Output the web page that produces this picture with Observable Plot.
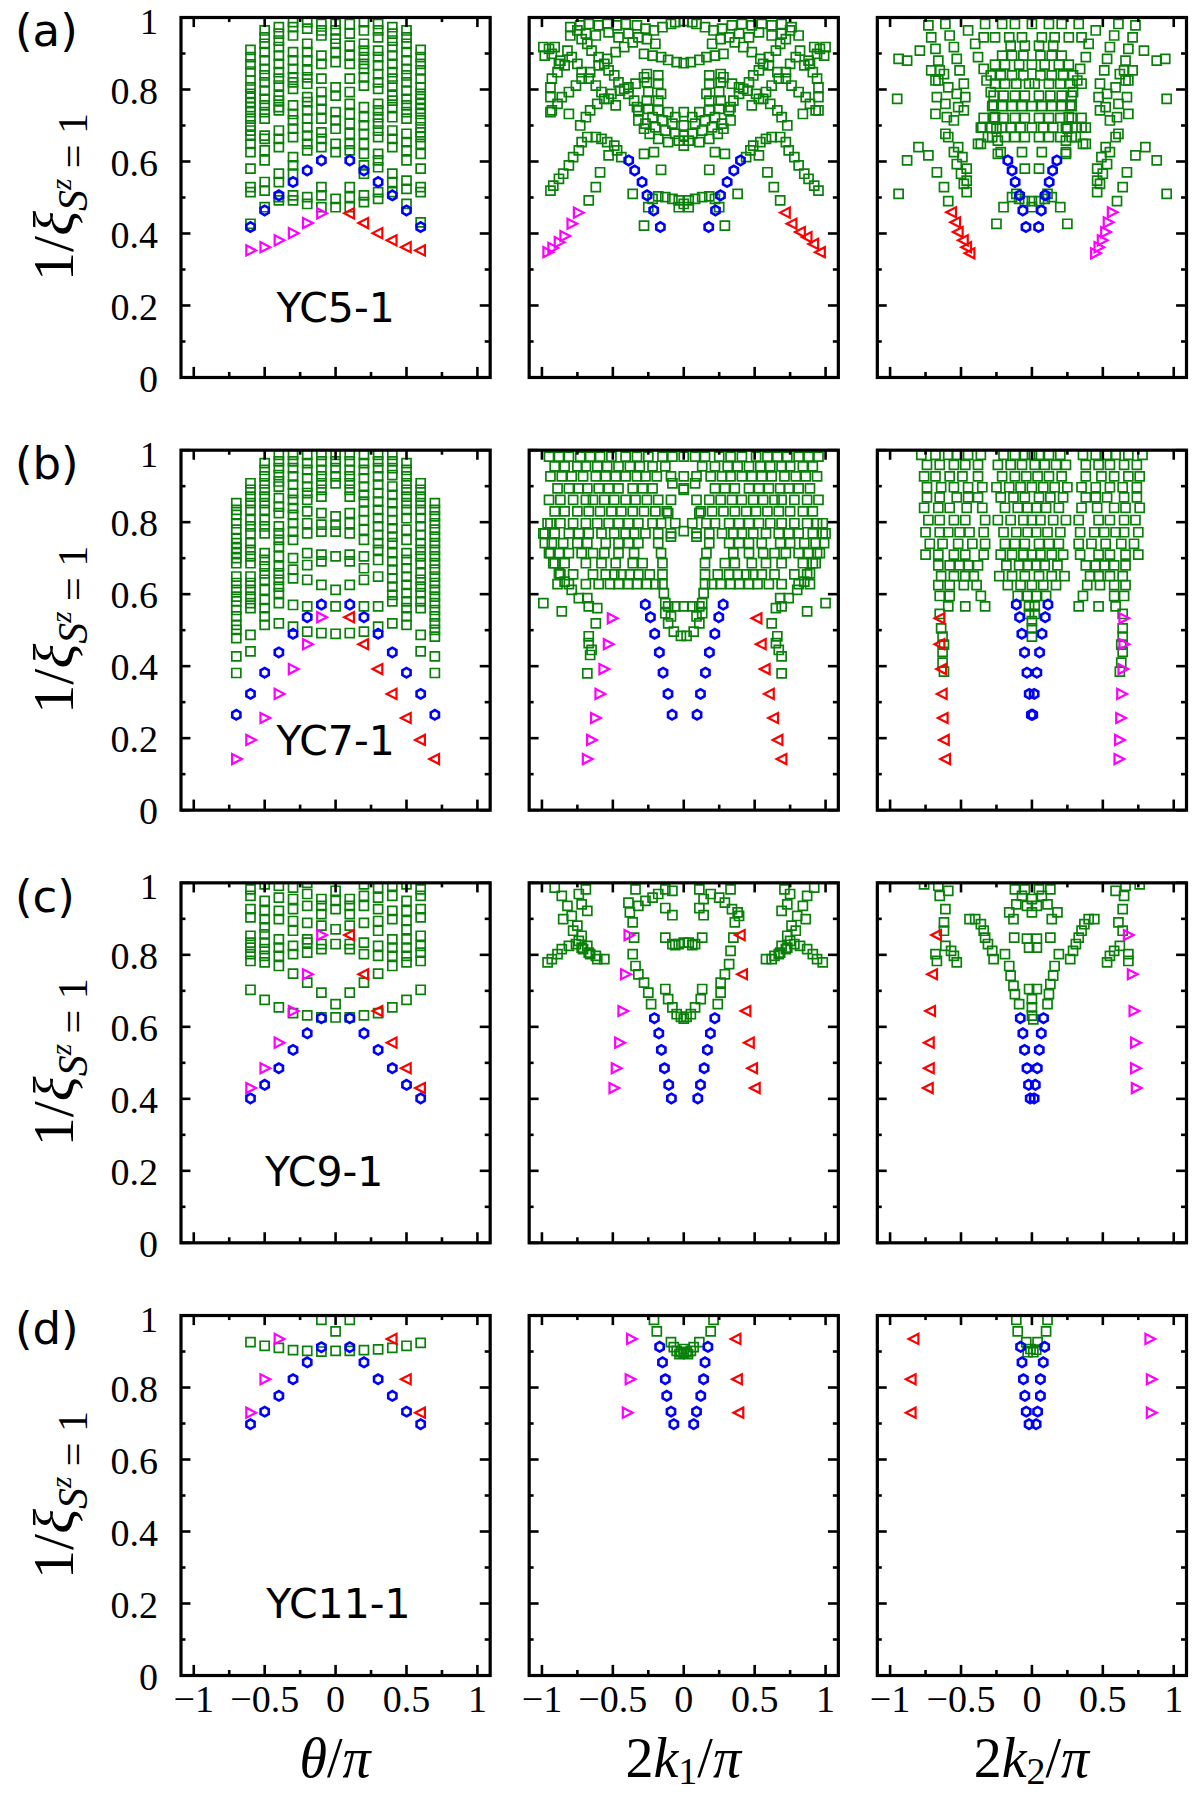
<!DOCTYPE html>
<html><head><meta charset="utf-8">
<script src="https://cdn.jsdelivr.net/npm/d3@7"></script>
<script src="https://cdn.jsdelivr.net/npm/@observablehq/plot@0.6"></script>
<style>body{margin:0;background:#fff}</style>
</head><body><div id="chart"></div>
<script>
// ---------------- categories / ticks ----------------
const rowKeys = ["a", "b", "c", "d"];
const colKeys = ["theta", "k1", "k2"];
const panelLetters = ["(a)", "(b)", "(c)", "(d)"];
const systemNames = ["YC5-1", "YC7-1", "YC9-1", "YC11-1"];
const systemLabelAt = [[0, 0.19], [0, 0.19], [-0.08, 0.193], [0.02, 0.195]];
const xMajorTicks = [-1, -0.5, 0, 0.5, 1];
const xMinorTicks = [-0.75, -0.25, 0.25, 0.75];
const yMajorTicks = [0, 0.2, 0.4, 0.6, 0.8, 1];
const yMinorTicks = [0.1, 0.3, 0.5, 0.7, 0.9];

// ---------------- row (a) YC5-1 ----------------
const greenA1 = [
 [-0.6,[0.91,0.89,0.87,0.85,0.825,0.806,0.788,0.777,0.765,0.751,0.737,0.719,0.70,0.686,0.672,0.649,0.626,0.58,0.529,0.515,0.427]],
 [-0.5,[0.964,0.945,0.927,0.904,0.881,0.857,0.839,0.82,0.797,0.774,0.756,0.737,0.719,0.672,0.663,0.631,0.603,0.543,0.519,0.473]],
 [-0.4,[0.973,0.955,0.936,0.918,0.894,0.871,0.848,0.83,0.811,0.783,0.769,0.751,0.742,0.686,0.663,0.64,0.566,0.543,0.501,0.492]],
 [-0.3,[0.987,0.973,0.95,0.904,0.881,0.857,0.834,0.82,0.802,0.756,0.732,0.714,0.691,0.668,0.612,0.589,0.566,0.506,0.492]],
 [-0.2,[0.987,0.969,0.927,0.904,0.881,0.853,0.834,0.816,0.779,0.765,0.742,0.719,0.695,0.672,0.649,0.631,0.501,0.482]],
 [-0.1,[0.982,0.964,0.95,0.894,0.871,0.83,0.793,0.769,0.746,0.719,0.681,0.663,0.64,0.529,0.506,0.473]],
 [0,[0.982,0.964,0.941,0.927,0.904,0.876,0.806,0.783,0.737,0.714,0.691,0.649,0.626,0.496,0.473]],
 [0.1,[0.982,0.955,0.922,0.894,0.871,0.83,0.793,0.76,0.732,0.705,0.677,0.649,0.631,0.529,0.501,0.473]],
 [0.2,[0.987,0.964,0.927,0.908,0.89,0.871,0.857,0.834,0.811,0.751,0.723,0.70,0.677,0.649,0.621,0.589,0.566,0.506,0.487]],
 [0.3,[0.982,0.964,0.945,0.908,0.89,0.867,0.843,0.82,0.802,0.76,0.742,0.723,0.705,0.686,0.668,0.621,0.603,0.584,0.515,0.496]],
 [0.4,[0.973,0.955,0.936,0.918,0.894,0.871,0.848,0.83,0.811,0.783,0.769,0.751,0.723,0.686,0.663,0.64,0.566,0.543,0.515]],
 [0.5,[0.964,0.945,0.927,0.904,0.881,0.857,0.839,0.82,0.797,0.774,0.756,0.737,0.719,0.677,0.654,0.631,0.603,0.547,0.524,0.482]],
 [0.6,[0.91,0.89,0.871,0.853,0.83,0.806,0.788,0.774,0.76,0.746,0.732,0.714,0.695,0.681,0.668,0.649,0.621,0.58,0.529,0.515,0.431]]
];
const blueA1 = [[-0.6,0.418],[-0.5,0.464],[-0.4,0.506],[-0.3,0.543],[-0.2,0.575],[-0.1,0.603],[0.1,0.603],[0.2,0.575],[0.3,0.543],[0.4,0.506],[0.5,0.464],[0.6,0.418]];
const magentaA1 = [[-0.6,0.353],[-0.5,0.362],[-0.4,0.381],[-0.3,0.401],[-0.2,0.429],[-0.1,0.456]];
const redA1 = [[0.1,0.456],[0.2,0.429],[0.3,0.401],[0.4,0.381],[0.5,0.362],[0.6,0.353]];

const greenA2 = [
 [-0.80,0.973],[-0.80,0.95],[-0.73,0.978],[-0.67,0.982],[-0.6,0.978],[-0.54,0.982],[-0.47,0.978],[-0.41,0.982],[-0.33,0.978],[-0.27,0.969],[-0.21,0.964],[-0.15,0.973],[-0.09,0.982],[-0.06,0.987],[0,0.99],[0.06,0.987],[0.09,0.982],[0.15,0.973],[0.21,0.964],[0.27,0.969],[0.34,0.978],[0.41,0.982],[0.48,0.978],[0.55,0.982],[0.62,0.978],[0.69,0.982],[0.76,0.973],[0.81,0.95],
 [-0.69,0.955],[-0.62,0.95],[-0.53,0.959],[-0.46,0.945],[-0.39,0.955],[0.39,0.955],[0.46,0.945],[0.53,0.959],[0.62,0.95],[0.69,0.955],
 [-0.28,0.899],[-0.22,0.894],[-0.16,0.89],[-0.11,0.882],[-0.05,0.876],[0,0.873],[0.05,0.876],[0.11,0.882],[0.16,0.89],[0.22,0.894],[0.28,0.899],[-0.2,0.927],[0.2,0.927],[-0.26,0.94],[0.26,0.94],
 [-0.99,0.918],[-0.95,0.913],[-0.91,0.918],[-0.98,0.894],[-0.93,0.899],[-0.87,0.88],[-0.84,0.867],[1.0,0.918],[0.96,0.913],[0.92,0.918],[0.99,0.894],[0.94,0.899],[0.88,0.88],[0.85,0.867],
 [-0.94,0.806],[-0.94,0.779],[-0.94,0.737],[-0.93,0.83],[-0.89,0.848],[-0.88,0.871],[-0.81,0.732],[0.95,0.806],[0.95,0.779],[0.95,0.742],[0.94,0.83],[0.91,0.848],[0.89,0.871],[0.84,0.732],
 [-0.75,0.964],[-0.72,0.94],[-0.68,0.927],[-0.65,0.908],[-0.6,0.89],[-0.56,0.871],[-0.53,0.853],[-0.49,0.839],[-0.46,0.82],[-0.42,0.802],[-0.39,0.788],[-0.35,0.769],[-0.33,0.751],
 [0.75,0.964],[0.72,0.94],[0.68,0.927],[0.65,0.908],[0.6,0.89],[0.56,0.871],[0.53,0.853],[0.49,0.839],[0.46,0.82],[0.42,0.802],[0.39,0.788],[0.35,0.769],[0.33,0.751],
 [-0.82,0.908],[-0.79,0.89],[-0.75,0.871],[-0.72,0.848],[-0.67,0.83],[-0.62,0.811],[-0.58,0.793],[-0.53,0.774],[-0.48,0.756],
 [0.82,0.908],[0.79,0.89],[0.75,0.871],[0.72,0.848],[0.67,0.83],[0.62,0.811],[0.58,0.793],[0.53,0.774],[0.48,0.756],
 [-0.93,0.742],[-0.89,0.76],[-0.86,0.779],[-0.81,0.793],[-0.76,0.811],[-0.72,0.83],[-0.66,0.848],[-0.6,0.867],[-0.54,0.885],[-0.48,0.904],[-0.42,0.918],[-0.36,0.931],[-0.32,0.945],
 [0.93,0.742],[0.89,0.76],[0.86,0.779],[0.81,0.793],[0.76,0.811],[0.72,0.83],[0.66,0.848],[0.6,0.867],[0.54,0.885],[0.48,0.904],[0.42,0.918],[0.36,0.931],[0.32,0.945],
 [-0.73,0.7],[-0.69,0.723],[-0.66,0.742],[-0.61,0.76],[-0.56,0.774],[-0.51,0.788],[-0.45,0.797],[-0.39,0.806],[-0.34,0.816],[-0.28,0.834],
 [0.73,0.7],[0.69,0.723],[0.66,0.742],[0.61,0.76],[0.56,0.774],[0.51,0.788],[0.45,0.797],[0.39,0.806],[0.34,0.816],[0.28,0.834],
 [-0.26,0.843],[-0.18,0.839],[-0.26,0.82],[-0.18,0.816],[-0.25,0.793],[-0.16,0.788],[-0.26,0.769],[-0.18,0.769],
 [0.26,0.843],[0.18,0.839],[0.26,0.82],[0.18,0.816],[0.25,0.793],[0.16,0.788],[0.26,0.769],[0.18,0.769],
 [-0.32,0.742],[-0.25,0.746],[-0.18,0.742],[-0.11,0.737],[0,0.737],[0.11,0.737],[0.18,0.742],[0.25,0.746],[0.32,0.742],
 [-0.32,0.714],[-0.28,0.691],[-0.24,0.677],[-0.18,0.663],[-0.11,0.654],[0,0.644],[0.11,0.654],[0.18,0.663],[0.24,0.677],[0.28,0.691],[0.33,0.714],
 [-0.27,0.705],[-0.2,0.695],[-0.13,0.686],[-0.06,0.677],[0,0.672],[0.06,0.677],[0.13,0.686],[0.2,0.695],[0.27,0.705],
 [-0.22,0.723],[-0.15,0.714],[-0.08,0.705],[0,0.7],[0.08,0.705],[0.15,0.714],[0.22,0.723],
 [-0.035,0.658],[0.035,0.658],[-0.06,0.723],[0.06,0.723],
 [-0.94,0.519],[-0.92,0.533],[-0.88,0.552],[-0.85,0.566],[-0.81,0.589],[-0.78,0.612],[-0.74,0.631],[-0.72,0.654],[-0.68,0.668],[-0.62,0.668],[-0.58,0.663],[-0.54,0.654],[-0.49,0.644],[-0.47,0.631],[-0.53,0.617],[-0.44,0.612],
 [0.95,0.519],[0.92,0.533],[0.88,0.552],[0.85,0.566],[0.81,0.589],[0.78,0.612],[0.74,0.631],[0.72,0.654],[0.68,0.668],[0.62,0.668],[0.58,0.663],[0.54,0.654],[0.49,0.644],[0.47,0.631],[0.53,0.617],[0.44,0.612],
 [-0.59,0.57],[-0.62,0.529],[-0.67,0.492],[0.59,0.57],[0.635,0.529],[0.68,0.492],
 [-0.28,0.621],[-0.21,0.626],[-0.16,0.577],[-0.36,0.51],[-0.28,0.422],[0.29,0.621],[0.22,0.626],[0.18,0.577],[0.38,0.51],[0.29,0.422],
 [-0.25,0.473],[-0.22,0.496],[-0.18,0.503],[-0.13,0.501],[-0.08,0.496],[-0.035,0.492],[0,0.482],[0.035,0.492],[0.08,0.496],[0.13,0.501],[0.18,0.503],[0.22,0.496],[0.25,0.473],[-0.035,0.473],[0.035,0.473]
];
const blueA2 = [[-0.388,0.603],[-0.346,0.575],[-0.294,0.543],[-0.259,0.506],[-0.212,0.464],[-0.165,0.418],[0.176,0.418],[0.224,0.464],[0.259,0.506],[0.306,0.543],[0.353,0.575],[0.4,0.603]];
const magentaA2 = [[-0.96,0.348],[-0.925,0.36],[-0.88,0.376],[-0.84,0.393],[-0.79,0.427],[-0.745,0.458]];
const redA2 = [[0.718,0.458],[0.765,0.427],[0.824,0.404],[0.871,0.39],[0.918,0.371],[0.965,0.348]];

const greenA3 = [
 [-0.94,0.885],[-0.88,0.88],[-0.79,0.908],[-0.95,0.774],[-0.94,0.51],[-0.88,0.603],[-0.8,0.64],[-0.73,0.617],[-0.67,0.57],[-0.62,0.529],[-0.59,0.49],
 [0.88,0.88],[0.94,0.885],[0.79,0.908],[0.95,0.774],[0.95,0.51],[0.88,0.603],[0.8,0.64],[0.73,0.617],[0.67,0.57],[0.64,0.529],[0.6,0.49],
 [-0.73,0.978],[-0.71,0.945],[-0.68,0.913],[-0.66,0.88],[-0.65,0.853],[-0.66,0.825],[-0.67,0.779],[-0.68,0.732],[-0.61,0.677],[-0.59,0.668],[-0.55,0.626],[-0.53,0.593],[-0.5,0.566],[-0.48,0.538],[-0.46,0.515],
 [0.73,0.978],[0.71,0.945],[0.68,0.913],[0.66,0.88],[0.65,0.853],[0.66,0.825],[0.67,0.779],[0.68,0.732],[0.61,0.677],[0.59,0.668],[0.55,0.626],[0.53,0.593],[0.5,0.566],[0.48,0.538],[0.46,0.515],
 [-0.61,0.982],[-0.58,0.95],[-0.55,0.918],[-0.53,0.885],[-0.51,0.853],[-0.48,0.816],[-0.47,0.779],[-0.48,0.742],[-0.6,0.723],[-0.55,0.714],[-0.52,0.64],[-0.49,0.612],[-0.46,0.58],[-0.46,0.547],
 [0.61,0.982],[0.58,0.95],[0.55,0.918],[0.53,0.885],[0.51,0.853],[0.48,0.816],[0.47,0.779],[0.48,0.742],[0.6,0.723],[0.55,0.714],[0.52,0.64],[0.49,0.612],[0.46,0.58],[0.46,0.547],
 [-0.71,0.853],[-0.68,0.825],[-0.62,0.843],[-0.59,0.806],[-0.53,0.788],[-0.52,0.751],[-0.61,0.76],
 [0.71,0.853],[0.68,0.825],[0.62,0.843],[0.59,0.806],[0.53,0.788],[0.52,0.751],[0.61,0.76],
 [-0.45,0.964],[-0.4,0.927],[-0.38,0.89],[-0.34,0.857],[-0.32,0.825],[-0.29,0.793],[-0.27,0.756],[-0.26,0.723],[-0.25,0.691],[-0.24,0.658],[-0.24,0.621],[-0.35,0.695],[-0.38,0.649],[-0.31,0.668],
 [0.45,0.964],[0.4,0.927],[0.38,0.89],[0.34,0.857],[0.32,0.825],[0.29,0.793],[0.27,0.756],[0.26,0.723],[0.25,0.691],[0.24,0.658],[0.24,0.621],[0.35,0.695],[0.38,0.649],[0.31,0.668]
];
const greenA3Rows = [
 [0.982,[-0.33,-0.21,-0.12,0,0.12,0.21,0.33]],
 [0.945,[-0.34,-0.26,-0.16,-0.07,0.07,0.16,0.26,0.35]],
 [0.922,[-0.15,-0.05,0.05,0.15]],
 [0.894,[-0.21,-0.14,-0.06,0.06,0.14,0.21]],
 [0.869,[-0.26,-0.19,-0.09,0,0.09,0.19,0.26]],
 [0.839,[-0.29,-0.22,-0.14,-0.06,0.06,0.14,0.22,0.29]],
 [0.816,[-0.26,-0.19,-0.11,-0.02,0.02,0.12,0.2,0.27,0.35]],
 [0.783,[-0.27,-0.2,-0.12,-0.05,0.05,0.13,0.21,0.28]],
 [0.754,[-0.28,-0.21,-0.14,-0.07,0,0.07,0.14,0.21,0.28]],
 [0.721,[-0.34,-0.27,-0.2,-0.12,-0.05,0.05,0.12,0.2,0.28,0.35]],
 [0.694,[-0.36,-0.29,-0.21,-0.15,-0.08,0,0.08,0.15,0.24,0.31,0.38]],
 [0.668,[-0.28,-0.19,-0.12,-0.05,0.05,0.12,0.2,0.28]],
 [0.649,[-0.36,0.36]],
 [0.626,[-0.22,-0.07,0.07,0.24]],
 [0.58,[-0.05,0.05]],
 [0.51,[-0.11,0.11]],
 [0.501,[-0.14,0.14]],
 [0.496,[-0.09,0.09]],
 [0.49,[-0.05,0,0.05]],
 [0.473,[-0.2,0,0.2]],
 [0.427,[-0.25,0.25]]
];
const blueA3 = [[-0.17,0.603],[-0.14,0.575],[-0.118,0.543],[-0.087,0.506],[-0.064,0.464],[-0.042,0.418],[0.176,0.603],[0.146,0.575],[0.122,0.543],[0.094,0.506],[0.066,0.464],[0.047,0.418]];
const redA3 = [[-0.565,0.459],[-0.536,0.431],[-0.518,0.404],[-0.482,0.381],[-0.459,0.362],[-0.435,0.345]];
const magentaA3 = [[0.565,0.459],[0.536,0.431],[0.518,0.404],[0.494,0.381],[0.471,0.362],[0.447,0.345]];

// ---------------- row (b) YC7-1 ----------------
const greenB1 = [
 [-0.7,[0.853,0.834,0.82,0.797,0.779,0.756,0.742,0.728,0.714,0.7,0.686,0.649,0.631,0.612,0.593,0.58,0.556,0.538,0.515,0.501,0.478,0.427,0.381]],
 [-0.6,[0.908,0.89,0.871,0.853,0.834,0.806,0.788,0.769,0.742,0.723,0.705,0.686,0.649,0.631,0.612,0.593,0.575,0.561,0.487,0.441]],
 [-0.5,[0.964,0.945,0.927,0.908,0.89,0.871,0.853,0.834,0.806,0.788,0.769,0.714,0.695,0.677,0.658,0.64,0.612,0.584,0.561,0.538,0.515]],
 [-0.4,[0.987,0.969,0.95,0.931,0.913,0.899,0.867,0.843,0.825,0.788,0.769,0.751,0.732,0.705,0.677,0.658,0.64,0.621,0.603,0.575,0.519]],
 [-0.3,[0.987,0.969,0.95,0.927,0.904,0.881,0.862,0.839,0.82,0.797,0.774,0.751,0.7,0.668,0.644,0.57,0.51]],
 [-0.2,[0.987,0.964,0.945,0.922,0.899,0.881,0.862,0.83,0.797,0.769,0.714,0.681,0.64,0.566,0.496]],
 [-0.1,[0.987,0.969,0.945,0.927,0.908,0.89,0.871,0.825,0.793,0.774,0.71,0.691,0.626,0.492]],
 [0,[0.987,0.969,0.95,0.927,0.908,0.816,0.793,0.774,0.705,0.612,0.566,0.49]],
 [0.1,[0.987,0.969,0.945,0.927,0.908,0.89,0.871,0.825,0.797,0.769,0.71,0.691,0.626,0.492]],
 [0.2,[0.987,0.964,0.945,0.922,0.899,0.876,0.857,0.83,0.806,0.779,0.751,0.705,0.672,0.64,0.566,0.496]],
 [0.3,[0.987,0.969,0.95,0.927,0.904,0.881,0.857,0.834,0.811,0.788,0.765,0.742,0.723,0.695,0.649,0.566,0.51]],
 [0.4,[0.987,0.969,0.95,0.931,0.899,0.876,0.853,0.83,0.806,0.783,0.76,0.742,0.714,0.691,0.668,0.644,0.621,0.598,0.58,0.519]],
 [0.5,[0.964,0.945,0.927,0.908,0.89,0.871,0.853,0.834,0.811,0.779,0.751,0.714,0.695,0.672,0.649,0.626,0.603,0.58,0.561,0.538,0.515]],
 [0.6,[0.908,0.89,0.871,0.853,0.834,0.811,0.788,0.765,0.742,0.723,0.705,0.686,0.658,0.64,0.621,0.603,0.58,0.561,0.487,0.441]],
 [0.7,[0.853,0.834,0.816,0.797,0.779,0.76,0.742,0.723,0.705,0.686,0.668,0.649,0.631,0.612,0.593,0.575,0.556,0.538,0.519,0.501,0.482,0.427,0.381]]
];
const blueB1 = [[-0.7,0.265],[-0.6,0.323],[-0.5,0.382],[-0.4,0.438],[-0.3,0.49],[-0.2,0.536],[-0.1,0.571],[0.1,0.571],[0.2,0.536],[0.3,0.49],[0.4,0.438],[0.5,0.382],[0.6,0.323],[0.7,0.265]];
const magentaB1 = [[-0.7,0.142],[-0.6,0.195],[-0.5,0.256],[-0.4,0.323],[-0.3,0.392],[-0.2,0.461],[-0.1,0.536]];
const redB1 = [[0.1,0.536],[0.2,0.461],[0.3,0.392],[0.4,0.323],[0.5,0.256],[0.6,0.195],[0.7,0.142]];

const greenB2Rows = [
 [0.982,[-0.95,-0.88,-0.81,-0.73,-0.66,-0.59,-0.51,-0.41,-0.33,-0.25,-0.15,-0.08,0,0.08,0.15,0.25,0.33,0.41,0.51,0.59,0.66,0.73,0.81,0.88,0.95]],
 [0.955,[-0.91,-0.84,-0.75,-0.69,-0.61,-0.54,-0.46,-0.38,-0.31,-0.22,-0.13,0.13,0.22,0.31,0.38,0.46,0.54,0.61,0.69,0.75,0.84,0.91]],
 [0.927,[-0.94,-0.86,-0.79,-0.71,-0.62,-0.55,-0.48,-0.41,-0.33,-0.27,-0.19,-0.09,0,0.09,0.19,0.27,0.33,0.41,0.48,0.55,0.62,0.71,0.79,0.86,0.94]],
 [0.908,[-0.08,0.08]],
 [0.894,[-0.89,-0.81,-0.74,-0.68,-0.6,-0.53,-0.46,-0.36,-0.29,-0.22,0,0.22,0.29,0.36,0.46,0.53,0.6,0.68,0.74,0.81,0.89]],
 [0.862,[-0.95,-0.87,-0.78,-0.69,-0.64,-0.56,-0.49,-0.41,-0.34,-0.26,-0.18,-0.09,0.09,0.18,0.26,0.34,0.41,0.49,0.56,0.64,0.69,0.78,0.87,0.95]],
 [0.83,[-0.91,-0.84,-0.75,-0.67,-0.59,-0.51,-0.44,-0.36,-0.28,-0.2,-0.12,0.12,0.2,0.28,0.36,0.44,0.51,0.59,0.67,0.75,0.84,0.91]],
 [0.797,[-0.94,-0.87,-0.78,-0.69,-0.61,-0.53,-0.46,-0.39,-0.32,-0.22,-0.16,-0.06,0.06,0.16,0.22,0.32,0.39,0.46,0.53,0.61,0.69,0.78,0.87,0.94]],
 [0.775,[0]],
 [0.769,[-0.98,-0.91,-0.81,-0.74,-0.67,-0.58,-0.49,-0.41,-0.35,-0.27,-0.18,-0.09,0.09,0.18,0.27,0.35,0.41,0.49,0.58,0.67,0.74,0.81,0.91,0.98]],
 [0.742,[-0.93,-0.85,-0.75,-0.68,-0.55,-0.46,-0.39,-0.32,-0.18,0.18,0.32,0.39,0.46,0.55,0.68,0.75,0.85,0.93]],
 [0.714,[-0.94,-0.88,-0.81,-0.72,-0.64,-0.56,-0.46,-0.35,-0.16,0.16,0.35,0.46,0.56,0.64,0.72,0.81,0.88,0.94]],
 [0.686,[-0.91,-0.84,-0.69,-0.58,-0.48,-0.36,-0.29,-0.15,0.15,0.29,0.36,0.48,0.58,0.69,0.84,0.91]],
 [0.655,[-0.87,-0.78,-0.64,-0.55,-0.49,-0.44,-0.38,-0.32,-0.24,-0.15,0.15,0.24,0.32,0.38,0.44,0.49,0.55,0.64,0.78,0.87]],
 [0.628,[-0.89,-0.81,-0.69,-0.6,-0.52,-0.46,-0.39,-0.33,-0.26,-0.2,-0.15,0.15,0.2,0.26,0.33,0.39,0.46,0.52,0.6,0.69,0.81,0.89]],
 [0.603,[-0.14,0.14]],
 [0.589,[-0.74,-0.68,0.68,0.74]],
 [0.575,[-0.13,0.13]],
 [0.566,[-0.11,-0.06,0,0.06,0.11]],
 [0.547,[-0.13,0.13]],
 [0.538,[-0.09,0.09]],
 [0.519,[-0.11,0.11]],
 [0.496,[-0.07,0.07]],
 [0.484,[-0.02,0.02]]
];
const greenB2 = [
 [-0.99,0.575],[-0.86,0.552],[-0.67,0.566],[-0.61,0.561],[-0.79,0.612],[-0.84,0.635],[-0.88,0.658],[-0.92,0.686],[-0.95,0.714],[-0.98,0.742],[-0.99,0.769],[-0.96,0.797],
 [1.0,0.575],[0.87,0.552],[0.69,0.566],[0.65,0.561],[0.8,0.612],[0.85,0.635],[0.89,0.658],[0.93,0.686],[0.96,0.714],[0.99,0.742],[1.0,0.769],[0.98,0.797],
 [-0.62,0.519],[-0.67,0.483],[-0.67,0.464],[-0.65,0.445],[-0.66,0.431],[-0.68,0.38],[0.62,0.519],[0.66,0.483],[0.65,0.464],[0.67,0.445],[0.69,0.427],[0.69,0.38],
 [-0.09,0.76],[0.09,0.76],[-0.11,0.825],[0.11,0.825],[0,0.89]
];
const blueB2 = [[-0.271,0.571],[-0.235,0.536],[-0.205,0.49],[-0.172,0.438],[-0.146,0.382],[-0.111,0.323],[-0.082,0.265],[0.278,0.571],[0.247,0.536],[0.219,0.49],[0.181,0.438],[0.153,0.382],[0.118,0.323],[0.094,0.265]];
const magentaB2 = [[-0.506,0.533],[-0.534,0.461],[-0.565,0.392],[-0.593,0.323],[-0.624,0.256],[-0.652,0.195],[-0.682,0.142]];
const redB2 = [[0.518,0.533],[0.548,0.461],[0.576,0.392],[0.605,0.323],[0.635,0.256],[0.666,0.195],[0.694,0.142]];

const greenB3Rows = [
 [0.987,[-0.78,-0.68,-0.59,-0.53,-0.45,-0.36,-0.2,-0.12,-0.05,0,0.05,0.12,0.2,0.36,0.45,0.53,0.59,0.68,0.78]],
 [0.959,[-0.74,-0.65,-0.55,-0.47,-0.38,-0.24,-0.15,-0.07,0.02,0.09,0.17,0.24,0.38,0.47,0.55,0.65,0.74]],
 [0.927,[-0.76,-0.68,-0.58,-0.49,-0.38,-0.21,-0.12,-0.04,0.04,0.12,0.21,0.38,0.49,0.58,0.68,0.76]],
 [0.897,[-0.74,-0.64,-0.55,-0.45,-0.35,-0.25,-0.16,-0.08,0,0.08,0.16,0.25,0.35,0.45,0.55,0.64,0.74]],
 [0.869,[-0.74,-0.65,-0.53,-0.45,-0.38,-0.22,-0.13,-0.05,0.05,0.13,0.22,0.38,0.45,0.53,0.65,0.74]],
 [0.84,[-0.76,-0.66,-0.58,-0.46,-0.35,-0.19,-0.1,-0.03,0.03,0.1,0.19,0.35,0.46,0.58,0.66,0.76]],
 [0.806,[-0.73,-0.65,-0.55,-0.47,-0.33,-0.24,-0.15,-0.06,0,0.06,0.15,0.24,0.33,0.47,0.55,0.65,0.73]],
 [0.772,[-0.75,-0.65,-0.59,-0.51,-0.44,-0.34,-0.2,-0.11,-0.03,0.03,0.11,0.2,0.34,0.44,0.51,0.59,0.65,0.75]],
 [0.74,[-0.72,-0.63,-0.52,-0.42,-0.33,-0.19,-0.12,-0.05,0.05,0.12,0.19,0.33,0.42,0.52,0.63,0.72]],
 [0.71,[-0.75,-0.66,-0.55,-0.47,-0.34,-0.22,-0.14,-0.06,0,0.06,0.14,0.22,0.34,0.47,0.55,0.66,0.75]],
 [0.68,[-0.66,-0.58,-0.51,-0.45,-0.38,-0.18,-0.09,-0.03,0.03,0.09,0.18,0.38,0.45,0.51,0.58,0.66]],
 [0.65,[-0.64,-0.55,-0.47,-0.41,-0.23,-0.14,-0.05,0.05,0.14,0.23,0.41,0.47,0.55,0.64]],
 [0.625,[-0.66,-0.58,-0.48,-0.39,-0.17,-0.08,0,0.08,0.17,0.39,0.48,0.58,0.66]],
 [0.595,[-0.65,-0.58,-0.36,-0.1,-0.03,0.03,0.1,0.36,0.58,0.65]],
 [0.566,[-0.59,-0.47,-0.33,-0.02,0.02,0.33,0.47,0.59]],
 [0.545,[-0.65,-0.02,0.02,0.64]],
 [0.525,[0]],
 [0.505,[-0.64,0,0.64]],
 [0.482,[-0.63,0,0.64]],
 [0.46,[-0.62,0.63]],
 [0.44,[-0.63,0.64]],
 [0.41,[-0.63,0.63]],
 [0.385,[-0.62,0.62]]
];
const blueB3 = [[-0.11,0.571],[-0.087,0.536],[-0.071,0.49],[-0.052,0.438],[-0.035,0.382],[-0.019,0.323],[-0.004,0.265],[0.113,0.571],[0.094,0.536],[0.071,0.49],[0.054,0.438],[0.035,0.382],[0.016,0.323],[0.006,0.265]];
const redB3 = [[-0.647,0.533],[-0.647,0.461],[-0.635,0.392],[-0.631,0.323],[-0.624,0.256],[-0.616,0.195],[-0.607,0.142]];
const magentaB3 = [[0.647,0.533],[0.647,0.461],[0.64,0.392],[0.631,0.323],[0.624,0.256],[0.616,0.195],[0.612,0.142]];

// ---------------- row (c) YC9-1 ----------------
const greenC1 = [
 [-0.6,[0.982,0.964,0.927,0.904,0.853,0.834,0.82,0.802,0.783,0.703]],
 [-0.5,[0.996,0.95,0.922,0.899,0.876,0.857,0.834,0.816,0.797,0.779,0.675]],
 [-0.4,[0.992,0.959,0.922,0.899,0.843,0.82,0.797,0.769,0.654]],
 [-0.3,[0.987,0.955,0.927,0.894,0.867,0.825,0.802,0.748,0.638]],
 [-0.2,[1.0,0.969,0.936,0.889,0.843,0.834,0.806,0.723,0.632]],
 [-0.1,[0.955,0.936,0.913,0.881,0.83,0.816,0.695,0.626]],
 [0,[0.978,0.95,0.927,0.871,0.83,0.663,0.626]],
 [0.1,[0.955,0.936,0.913,0.881,0.83,0.816,0.695,0.626]],
 [0.2,[0.996,0.964,0.936,0.889,0.834,0.802,0.723,0.632]],
 [0.3,[0.987,0.959,0.927,0.894,0.867,0.825,0.797,0.748,0.638]],
 [0.4,[0.992,0.964,0.922,0.899,0.843,0.82,0.797,0.769,0.654]],
 [0.5,[0.996,0.95,0.922,0.894,0.871,0.843,0.82,0.797,0.779,0.675]],
 [0.6,[0.982,0.964,0.927,0.904,0.853,0.825,0.806,0.783,0.703]]
];
const blueC1 = [[-0.6,0.401],[-0.5,0.439],[-0.4,0.485],[-0.3,0.536],[-0.2,0.582],[-0.1,0.624],[0.1,0.624],[0.2,0.582],[0.3,0.536],[0.4,0.485],[0.5,0.439],[0.6,0.401]];
const magentaC1 = [[-0.6,0.43],[-0.5,0.485],[-0.4,0.556],[-0.3,0.644],[-0.2,0.746],[-0.1,0.855]];
const redC1 = [[0.1,0.855],[0.2,0.746],[0.3,0.644],[0.4,0.556],[0.5,0.485],[0.6,0.43]];

const greenC2 = [
 [-0.39,0.945],[-0.38,0.918],[-0.36,0.89],[-0.35,0.848],[-0.36,0.802],[-0.34,0.769],[-0.32,0.746],[-0.28,0.723],[-0.25,0.695],[-0.23,0.663],
 [0.38,0.918],[0.36,0.89],[0.35,0.848],[0.33,0.811],[0.32,0.774],[0.29,0.746],[0.26,0.723],[0.26,0.695],[0.24,0.663],
 [-0.32,0.936],[-0.27,0.95],[-0.22,0.959],[-0.18,0.969],[-0.13,0.982],[-0.08,0.978],[-0.34,0.982],[-0.13,0.93],[-0.08,0.91],
 [0.11,0.982],[0.14,0.955],[0.19,0.969],[0.25,0.959],[0.29,0.945],[0.34,0.927],[0.39,0.908],[0.33,0.982],[0.11,0.93],[0.14,0.91],
 [-0.13,0.705],[-0.11,0.677],[-0.08,0.654],[-0.05,0.635],[0,0.623],[0.05,0.635],[0.08,0.654],[0.12,0.677],[0.13,0.705],[-0.02,0.628],[0.02,0.628],
 [-0.13,0.848],[-0.08,0.83],[-0.035,0.83],[0,0.834],[0.035,0.834],[0.08,0.83],[0.13,0.848],[-0.06,0.827],[0.06,0.827],
 [-0.91,0.987],[-0.86,0.964],[-0.82,0.936],[-0.79,0.908],[-0.75,0.881],[-0.72,0.853],[-0.68,0.825],[-0.66,0.802],[-0.61,0.788],[-0.56,0.788],
 [-0.96,0.779],[-0.93,0.788],[-0.89,0.802],[-0.86,0.816],[-0.81,0.825],[-0.76,0.83],[-0.72,0.82],[-0.67,0.806],[-0.62,0.797],
 [-0.74,0.969],[-0.69,0.982],[-0.72,0.94],[-0.68,0.922],[-0.85,0.899],[-0.78,0.867],[-0.74,0.839],[-0.71,0.816],
 [0.92,0.987],[0.87,0.964],[0.84,0.936],[0.8,0.908],[0.76,0.881],[0.73,0.853],[0.69,0.825],[0.67,0.802],[0.62,0.788],[0.58,0.788],
 [0.98,0.779],[0.94,0.788],[0.91,0.802],[0.87,0.816],[0.82,0.825],[0.78,0.83],[0.73,0.82],[0.68,0.806],[0.64,0.797],
 [0.75,0.969],[0.71,0.982],[0.73,0.94],[0.69,0.922],[0.86,0.899],[0.79,0.867],[0.75,0.839],[0.72,0.816]
];
const blueC2 = [[-0.207,0.624],[-0.176,0.582],[-0.158,0.536],[-0.136,0.485],[-0.106,0.439],[-0.087,0.401],[0.219,0.624],[0.188,0.582],[0.167,0.536],[0.144,0.485],[0.118,0.439],[0.099,0.401]];
const magentaC2 = [[-0.388,0.855],[-0.412,0.746],[-0.431,0.644],[-0.454,0.556],[-0.478,0.485],[-0.494,0.43]];
const redC2 = [[0.4,0.855],[0.416,0.746],[0.44,0.644],[0.464,0.556],[0.487,0.485],[0.506,0.43]];

const greenC3 = [
 [-0.19,0.802],[-0.16,0.769],[-0.15,0.742],[-0.13,0.714],[-0.12,0.691],[-0.09,0.663],
 [0.19,0.802],[0.16,0.769],[0.15,0.742],[0.13,0.719],[0.12,0.691],[0.11,0.663],
 [-0.02,0.705],[0.035,0.705],[0,0.677],[0,0.654],[0,0.631],[0.01,0.621],
 [-0.125,0.848],[-0.035,0.845],[0.035,0.845],[0.13,0.848],[-0.02,0.82],[0.035,0.82],
 [-0.16,0.918],[-0.13,0.899],[-0.11,0.94],[-0.07,0.964],[-0.05,0.982],[-0.035,0.936],[0,0.955],[0,0.918],[0.035,0.936],[0.05,0.982],[0.07,0.964],[0.11,0.94],[0.14,0.899],[0.18,0.918],[0.13,0.982],[-0.12,0.982],
 [-0.44,0.899],[-0.4,0.899],[-0.36,0.885],[-0.34,0.867],[-0.33,0.848],[-0.31,0.83],[-0.28,0.811],[-0.27,0.788],
 [0.44,0.899],[0.4,0.899],[0.37,0.885],[0.35,0.867],[0.33,0.848],[0.31,0.83],[0.29,0.811],[0.27,0.788],
 [-0.76,0.996],[-0.66,0.992],[-0.65,0.964],[-0.59,0.978],[-0.61,0.927],[-0.62,0.89],[-0.62,0.867],[-0.61,0.825],[-0.68,0.802],[-0.67,0.783],[-0.57,0.811],[-0.55,0.797],[-0.53,0.779],
 [0.76,0.996],[0.66,0.992],[0.65,0.964],[0.59,0.978],[0.64,0.927],[0.61,0.89],[0.64,0.867],[0.62,0.825],[0.68,0.802],[0.68,0.783],[0.58,0.811],[0.55,0.797],[0.53,0.779]
];
const blueC3 = [[-0.082,0.624],[-0.064,0.582],[-0.052,0.536],[-0.035,0.485],[-0.024,0.439],[-0.012,0.401],[0.082,0.624],[0.066,0.582],[0.052,0.536],[0.038,0.485],[0.024,0.439],[0.016,0.401]];
const redC3 = [[-0.671,0.855],[-0.699,0.746],[-0.713,0.644],[-0.722,0.556],[-0.722,0.485],[-0.729,0.43]];
const magentaC3 = [[0.678,0.855],[0.706,0.746],[0.718,0.644],[0.729,0.556],[0.729,0.485],[0.734,0.43]];

// ---------------- row (d) YC11-1 ----------------
const greenD1 = [[-0.6,0.926],[-0.5,0.916],[-0.4,0.91],[-0.3,0.904],[-0.2,0.902],[-0.1,0.9],[0,0.902],[0.1,0.902],[0.2,0.904],[0.3,0.906],[0.4,0.91],[0.5,0.916],[0.6,0.924],[0,0.956],[-0.1,0.988],[0.1,0.988]];
const blueD1 = [[-0.6,0.698],[-0.5,0.733],[-0.4,0.777],[-0.3,0.823],[-0.2,0.87],[-0.1,0.912],[0.1,0.912],[0.2,0.87],[0.3,0.823],[0.4,0.777],[0.5,0.733],[0.6,0.698]];
const magentaD1 = [[-0.6,0.73],[-0.5,0.823],[-0.4,0.935]];
const redD1 = [[0.4,0.935],[0.5,0.823],[0.6,0.73]];

const greenD2 = [[-0.21,0.988],[0.21,0.988],[-0.19,0.956],[0.19,0.956],[-0.09,0.926],[0.11,0.926],[-0.07,0.912],[-0.05,0.902],[-0.02,0.898],[0,0.895],[0.02,0.898],[0.05,0.902],[0.07,0.912],[0,0.907],[-0.03,0.893],[0.03,0.893]];
const blueD2 = [[-0.17,0.913],[-0.15,0.87],[-0.13,0.823],[-0.12,0.777],[-0.09,0.733],[-0.07,0.698],[0.17,0.913],[0.15,0.87],[0.14,0.823],[0.12,0.777],[0.09,0.733],[0.07,0.698]];
const magentaD2 = [[-0.37,0.935],[-0.38,0.823],[-0.4,0.73]];
const redD2 = [[0.37,0.935],[0.38,0.823],[0.39,0.73]];

const greenD3 = [[-0.11,0.988],[0.11,0.988],[-0.1,0.956],[0.1,0.956],[-0.04,0.926],[0.04,0.926],[-0.01,0.907],[0.01,0.898],[-0.03,0.898],[0.03,0.905]];
const blueD3 = [[-0.08,0.913],[-0.07,0.87],[-0.06,0.823],[-0.05,0.777],[-0.04,0.733],[-0.02,0.698],[0.09,0.913],[0.08,0.87],[0.06,0.823],[0.06,0.777],[0.04,0.733],[0.03,0.698]];
const redD3 = [[-0.83,0.935],[-0.85,0.823],[-0.85,0.73]];
const magentaD3 = [[0.83,0.935],[0.84,0.823],[0.84,0.73]];

// ---------------- build table ----------------
const pts = [];
const addPairs = (row, col, kind, arr) => { for (const [x, y] of arr) pts.push({row, col, kind, x, y}); };
const addCols = (row, col, kind, arr) => { for (const [x, ys] of arr) for (const y of ys) pts.push({row, col, kind, x, y}); };
const addRows = (row, col, kind, arr) => { for (const [y, xs] of arr) for (const x of xs) pts.push({row, col, kind, x, y}); };

addCols("a","theta","green",greenA1); addPairs("a","theta","blue",blueA1); addPairs("a","theta","magenta",magentaA1); addPairs("a","theta","red",redA1);
addPairs("a","k1","green",greenA2); addPairs("a","k1","blue",blueA2); addPairs("a","k1","magenta",magentaA2); addPairs("a","k1","red",redA2);
addPairs("a","k2","green",greenA3); addRows("a","k2","green",greenA3Rows); addPairs("a","k2","blue",blueA3); addPairs("a","k2","magenta",magentaA3); addPairs("a","k2","red",redA3);
addCols("b","theta","green",greenB1); addPairs("b","theta","blue",blueB1); addPairs("b","theta","magenta",magentaB1); addPairs("b","theta","red",redB1);
addRows("b","k1","green",greenB2Rows); addPairs("b","k1","green",greenB2); addPairs("b","k1","blue",blueB2); addPairs("b","k1","magenta",magentaB2); addPairs("b","k1","red",redB2);
addRows("b","k2","green",greenB3Rows); addPairs("b","k2","blue",blueB3); addPairs("b","k2","magenta",magentaB3); addPairs("b","k2","red",redB3);
addCols("c","theta","green",greenC1); addPairs("c","theta","blue",blueC1); addPairs("c","theta","magenta",magentaC1); addPairs("c","theta","red",redC1);
addPairs("c","k1","green",greenC2); addPairs("c","k1","blue",blueC2); addPairs("c","k1","magenta",magentaC2); addPairs("c","k1","red",redC2);
addPairs("c","k2","green",greenC3); addPairs("c","k2","blue",blueC3); addPairs("c","k2","magenta",magentaC3); addPairs("c","k2","red",redC3);
addPairs("d","theta","green",greenD1); addPairs("d","theta","blue",blueD1); addPairs("d","theta","magenta",magentaD1); addPairs("d","theta","red",redD1);
addPairs("d","k1","green",greenD2); addPairs("d","k1","blue",blueD2); addPairs("d","k1","magenta",magentaD2); addPairs("d","k1","red",redD2);
addPairs("d","k2","green",greenD3); addPairs("d","k2","blue",blueD3); addPairs("d","k2","magenta",magentaD3); addPairs("d","k2","red",redD3);

const ofKind = k => pts.filter(d => d.kind === k);

// custom triangle symbols (pointing right / left)
const triRight = {draw(ctx, size) { const r = Math.sqrt(size / Math.PI); ctx.moveTo(r, 0); ctx.lineTo(-0.75 * r, -0.9 * r); ctx.lineTo(-0.75 * r, 0.9 * r); ctx.closePath(); }};
const triLeft = {draw(ctx, size) { const r = Math.sqrt(size / Math.PI); ctx.moveTo(-r, 0); ctx.lineTo(0.75 * r, -0.9 * r); ctx.lineTo(0.75 * r, 0.9 * r); ctx.closePath(); }};

const panelLabelData = rowKeys.map((r, i) => ({row: r, col: "theta", text: panelLetters[i]}));
const systemData = rowKeys.map((r, i) => ({row: r, col: "theta", text: systemNames[i], x: systemLabelAt[i][0], y: systemLabelAt[i][1]}));

const XMIN = -1.09, XMAX = 1.09;
const fmt = d => (d < 0 ? "\u2212" : "") + Math.abs(d);
const tLenYMaj = 0.028, tLenYMin = 0.014, tLenXMaj = 0.07, tLenXMin = 0.035;
const tickStyle = {stroke: "black", strokeWidth: 2.6};
const serif = "'Liberation Serif', serif";

const chart = Plot.plot({
  width: 1200, height: 1800,
  marginLeft: 180.5, marginRight: 14, marginTop: 17, marginBottom: 125,
  style: {fontFamily: serif, fontSize: "38px", color: "black", background: "white"},
  x: {domain: [XMIN, XMAX], ticks: xMajorTicks, tickFormat: fmt, tickSize: 0, tickPadding: 10, label: null},
  y: {domain: [0, 1], axis: null},
  fx: {domain: colKeys, paddingInner: 0.112, paddingOuter: 0, round: false, axis: null, label: null},
  fy: {domain: rowKeys, paddingInner: 0.168, paddingOuter: 0, round: false, axis: null, label: null},
  marks: [
    Plot.dot(ofKind("green"), {x: "x", y: "y", fx: "col", fy: "row", symbol: "square", r: 5.1, fill: "none", stroke: "#0a800a", strokeWidth: 1.7, clip: true}),
    Plot.dot(ofKind("magenta"), {x: "x", y: "y", fx: "col", fy: "row", symbol: triRight, r: 5.6, fill: "none", stroke: "#ff00ff", strokeWidth: 2.2, clip: true}),
    Plot.dot(ofKind("red"), {x: "x", y: "y", fx: "col", fy: "row", symbol: triLeft, r: 5.6, fill: "none", stroke: "#ff0000", strokeWidth: 2.2, clip: true}),
    Plot.dot(ofKind("blue"), {x: "x", y: "y", fx: "col", fy: "row", symbol: "hexagon", r: 4.1, fill: "none", stroke: "#0000ff", strokeWidth: 2.6, clip: true}),
    // mirror ticks on all four sides
    Plot.ruleX(xMajorTicks, {x: d => d, y1: 0, y2: tLenYMaj, ...tickStyle}),
    Plot.ruleX(xMajorTicks, {x: d => d, y1: 1, y2: 1 - tLenYMaj, ...tickStyle}),
    Plot.ruleX(xMinorTicks, {x: d => d, y1: 0, y2: tLenYMin, ...tickStyle}),
    Plot.ruleX(xMinorTicks, {x: d => d, y1: 1, y2: 1 - tLenYMin, ...tickStyle}),
    Plot.ruleY(yMajorTicks, {y: d => d, x1: XMIN, x2: XMIN + tLenXMaj, ...tickStyle}),
    Plot.ruleY(yMajorTicks, {y: d => d, x1: XMAX, x2: XMAX - tLenXMaj, ...tickStyle}),
    Plot.ruleY(yMinorTicks, {y: d => d, x1: XMIN, x2: XMIN + tLenXMin, ...tickStyle}),
    Plot.ruleY(yMinorTicks, {y: d => d, x1: XMAX, x2: XMAX - tLenXMin, ...tickStyle}),
    Plot.frame({stroke: "black", strokeWidth: 3.2}),
    // y tick labels (left column only); the top label nudged to stay inside the page
    Plot.axisY(yMajorTicks.filter(d => d < 1), {anchor: "left", tickSize: 0, tickPadding: 23, tickFormat: fmt, label: null, dy: 2}),
    Plot.axisY(yMajorTicks.filter(d => d === 1), {anchor: "left", tickSize: 0, tickPadding: 23, tickFormat: fmt, label: null, dy: 5, fontSize: 36}),
    Plot.text(systemData, {x: "x", y: "y", fx: "col", fy: "row", text: "text", fontFamily: "'DejaVu Sans', sans-serif", fontSize: 41, fill: "black"}),
    Plot.text(panelLabelData, {fx: "col", fy: "row", text: "text", frameAnchor: "top-left", textAnchor: "start", lineAnchor: "top", dx: -166, dy: -3, fontFamily: "'DejaVu Sans', sans-serif", fontSize: 45, fill: "black"})
  ]
});
document.getElementById("chart").appendChild(chart);

// ---------------- math axis titles ----------------
const svg = d3.select(chart);
let fxS = null, fyS = null;
try { fxS = chart.scale("fx"); fyS = chart.scale("fy"); } catch (e) {}
const rowTop = r => (fyS && fyS.apply) ? fyS.apply(r) : 17 + rowKeys.indexOf(r) * 432.7;
const rowH = (fyS && fyS.bandwidth) ? fyS.bandwidth : 360;
const colLeft = c => (fxS && fxS.apply) ? fxS.apply(c) : 180.5 + colKeys.indexOf(c) * 348.2;
const colW = (fxS && fxS.bandwidth) ? fxS.bandwidth : 309;

for (const r of rowKeys) {
  const cy = rowTop(r) + rowH / 2;
  const t = svg.append("text")
    .attr("transform", `translate(73,${cy}) rotate(-90)`)
    .attr("text-anchor", "middle")
    .attr("font-family", serif)
    .attr("font-size", 58).attr("fill", "black");
  t.append("tspan").text("1/");
  t.append("tspan").attr("font-style", "italic").text("\u03BE");
  t.append("tspan").attr("font-style", "italic").attr("font-size", 42).attr("dy", 14).text("S");
  t.append("tspan").attr("font-style", "italic").attr("font-size", 29).attr("dy", -16).text("z");
  t.append("tspan").attr("font-size", 42).attr("dy", 16).text(" = 1");
}

const xTitleY = 1777;
const xTitles = [
  {col: "theta", parts: [["\u03B8", "italic", 0], ["/", "normal", 0], ["\u03C0", "italic", 0]]},
  {col: "k1", parts: [["2", "normal", 0], ["k", "italic", 0], ["1", "normal", 1], ["/", "normal", 0], ["\u03C0", "italic", 0]]},
  {col: "k2", parts: [["2", "normal", 0], ["k", "italic", 0], ["2", "normal", 1], ["/", "normal", 0], ["\u03C0", "italic", 0]]}
];
for (const xt of xTitles) {
  const cx = colLeft(xt.col) + colW / 2;
  const t = svg.append("text")
    .attr("x", cx).attr("y", xTitleY)
    .attr("text-anchor", "middle")
    .attr("font-family", serif)
    .attr("font-size", 56).attr("fill", "black");
  let prevSub = 0;
  for (const [txt, style, sub] of xt.parts) {
    const s = t.append("tspan").attr("font-style", style).text(txt);
    if (sub) s.attr("font-size", 38);
    const dy = (sub ? 7 : 0) - (prevSub ? 7 : 0);
    if (dy) s.attr("dy", dy);
    prevSub = sub;
  }
}
</script>
</body></html>
